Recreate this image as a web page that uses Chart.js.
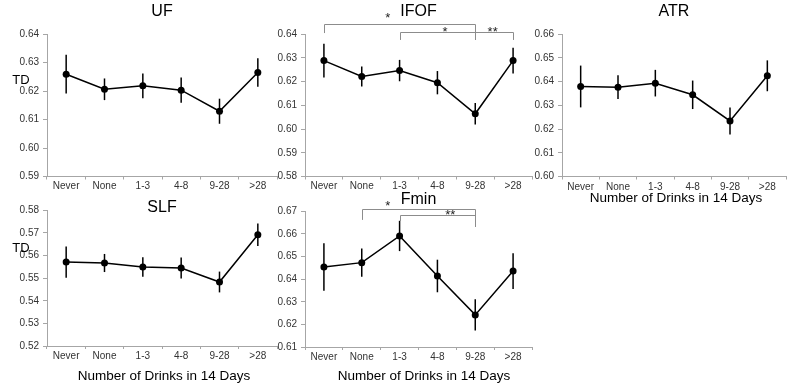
<!DOCTYPE html>
<html><head><meta charset="utf-8">
<script src="https://cdn.jsdelivr.net/npm/chart.js@4/dist/chart.umd.min.js"></script>
<style>
html,body{margin:0;padding:0;background:#fff;}
body{width:790px;height:384px;position:relative;overflow:hidden;}
canvas{position:absolute;}
</style></head><body>
<canvas id="c_uf" width="285" height="200" style="left:0;top:0"></canvas>
<canvas id="c_ifof" width="275" height="200" style="left:265px;top:0"></canvas>
<canvas id="c_atr" width="265" height="210" style="left:525px;top:0"></canvas>
<canvas id="c_slf" width="285" height="204" style="left:0;top:180px"></canvas>
<canvas id="c_fmin" width="275" height="204" style="left:265px;top:180px"></canvas>
<script>
// ---- data ----
const categories = ['Never','None','1-3','4-8','9-28','>28'];

const ufMean  = [0.6259,0.6206,0.6218,0.6203,0.6129,0.6265];
const ufErr   = [0.0068,0.0038,0.0043,0.0044,0.0044,0.0050];
const ifofMean= [0.6288,0.6221,0.6246,0.6195,0.6064,0.6288];
const ifofErr = [0.0071,0.0042,0.0045,0.0049,0.0045,0.0054];
const atrMean = [0.6379,0.6376,0.6393,0.6344,0.6234,0.6424];
const atrErr  = [0.0088,0.0050,0.0056,0.0060,0.0057,0.0065];
const slfMean = [0.5571,0.5567,0.5549,0.5545,0.5483,0.5692];
const slfErr  = [0.0069,0.0040,0.0043,0.0046,0.0046,0.0050];
const fminMean= [0.6454,0.6473,0.6591,0.6414,0.6242,0.6436];
const fminErr = [0.0105,0.0062,0.0067,0.0072,0.0069,0.0079];

const ufTicks   = [0.59,0.60,0.61,0.62,0.63,0.64];
const ifofTicks = [0.58,0.59,0.60,0.61,0.62,0.63,0.64];
const atrTicks  = [0.60,0.61,0.62,0.63,0.64,0.65,0.66];
const slfTicks  = [0.52,0.53,0.54,0.55,0.56,0.57,0.58];
const fminTicks = [0.61,0.62,0.63,0.64,0.65,0.66,0.67];

const yLabel = 'TD';
const xTitle = 'Number of Drinks in 14 Days';

// significance brackets: category indices, bracket level & leg ends in data units
const ifofSig = [
  {from:0, to:4, level:0.6442, legFrom:0.6404, legTo:0.6375, mark:'*',  markAt:1.69, markY:0.6480},
  {from:2, to:4, level:0.6407, legFrom:0.6375, legTo:0.6375, mark:'*',  markAt:3.20, markY:0.6421},
  {from:4, to:5, level:0.6407, legFrom:0.6375, legTo:0.6375, mark:'**', markAt:4.46, markY:0.6421}
];
const fminSig = [
  {from:1, to:4, level:0.6710, legFrom:0.6662, legTo:0.6631, mark:'*',  markAt:1.69, markY:0.6737},
  {from:2, to:4, level:0.6684, legFrom:0.6657, legTo:0.6631, mark:'**', markAt:3.34, markY:0.6693}
];

// ---- rendering ----
const FONT = "'Liberation Sans', Arial, sans-serif";

const panelPlugin = {
  id: 'panelExtras',
  beforeDatasetsDraw(chart) {
    const o = chart.options.plugins.panelExtras;
    const ctx = chart.ctx, xs = chart.scales.x, ys = chart.scales.y;
    ctx.save();
    ctx.strokeStyle = '#000';
    ctx.lineWidth = 1.5;
    o.mean.forEach((m, i) => {
      const x = xs.getPixelForValue(i);
      ctx.beginPath();
      ctx.moveTo(x, ys.getPixelForValue(m - o.err[i]));
      ctx.lineTo(x, ys.getPixelForValue(m + o.err[i]));
      ctx.stroke();
    });
    ctx.restore();
  },
  afterDraw(chart) {
    const o = chart.options.plugins.panelExtras;
    const ctx = chart.ctx, xs = chart.scales.x, ys = chart.scales.y, ca = chart.chartArea;
    ctx.save();
    (o.sig || []).forEach(s => {
      const x1 = Math.round(xs.getPixelForValue(s.from)) + 0.5;
      const x2 = Math.round(xs.getPixelForValue(s.to)) + 0.5;
      const yl = Math.round(ys.getPixelForValue(s.level)) + 0.5;
      ctx.strokeStyle = '#8c8c8c';
      ctx.lineWidth = 1;
      ctx.beginPath();
      ctx.moveTo(x1, ys.getPixelForValue(s.legFrom));
      ctx.lineTo(x1, yl);
      ctx.lineTo(x2, yl);
      ctx.lineTo(x2, ys.getPixelForValue(s.legTo));
      ctx.stroke();
      ctx.fillStyle = '#222';
      ctx.font = '13px ' + FONT;
      ctx.textAlign = 'center';
      ctx.textBaseline = 'middle';
      ctx.fillText(s.mark, xs.getPixelForValue(s.markAt), ys.getPixelForValue(s.markY) + 3);
    });
    ctx.fillStyle = '#000';
    ctx.textAlign = 'center';
    ctx.textBaseline = 'alphabetic';
    ctx.font = '16px ' + FONT;
    ctx.fillText(o.title, (ca.left + ca.right) / 2, o.titleY);
    if (o.td) {
      ctx.font = '13px ' + FONT;
      ctx.fillText(yLabel, o.td[0], o.td[1]);
    }
    if (o.xt) {
      ctx.font = '13.5px ' + FONT;
      ctx.fillText(xTitle, o.xt[0], o.xt[1]);
    }
    ctx.restore();
  }
};

function makePanel(id, cfg) {
  const cv = document.getElementById(id);
  const H = cv.height, W = cv.width;
  new Chart(cv, {
    type: 'line',
    data: {
      labels: categories,
      datasets: [{
        data: cfg.mean,
        borderColor: '#000',
        backgroundColor: '#000',
        borderWidth: 1.5,
        pointRadius: 3.5,
        pointBackgroundColor: '#000',
        pointBorderWidth: 0,
        tension: 0,
        fill: false
      }]
    },
    options: {
      responsive: false,
      animation: false,
      devicePixelRatio: 1,
      layout: { padding: { top: cfg.top, right: W - cfg.right, left: 0, bottom: 0 } },
      plugins: {
        legend: { display: false },
        tooltip: { enabled: false },
        title: { display: false },
        panelExtras: {
          mean: cfg.mean, err: cfg.err, sig: cfg.sig, title: cfg.title,
          titleY: cfg.titleY, td: cfg.td, xt: cfg.xt
        }
      },
      scales: {
        x: {
          type: 'category',
          offset: true,
          grid: { offset: true, drawOnChartArea: false, drawTicks: true, tickLength: 3, color: '#a6a6a6' },
          border: { display: true, color: '#a6a6a6', width: 1 },
          ticks: { color: '#333', font: { size: 10, family: FONT }, padding: cfg.xpad || 1, maxRotation: 0, autoSkip: false },
          afterFit: (a) => { a.height = H - cfg.bottom; }
        },
        y: {
          type: 'linear',
          min: cfg.ticks[0],
          max: cfg.ticks[cfg.ticks.length - 1],
          afterBuildTicks: (a) => { a.ticks = cfg.ticks.map(v => ({ value: v })); },
          grid: { drawOnChartArea: false, drawTicks: true, tickLength: 4, color: '#a6a6a6' },
          border: { display: true, color: '#a6a6a6', width: 1 },
          ticks: { color: '#333', font: { size: 10, family: FONT }, padding: 4,
                   callback: (v) => Number(v).toFixed(2) },
          afterFit: (a) => { a.width = cfg.left; }
        }
      }
    },
    plugins: [panelPlugin]
  });
}

// canvas-relative chart areas
makePanel('c_uf',   { mean: ufMean,   err: ufErr,   ticks: ufTicks,   title: 'UF',   titleY: 16,
  left: 47, right: 277, top: 34, bottom: 176.5, td: [21, 83.5] });
makePanel('c_ifof', { mean: ifofMean, err: ifofErr, ticks: ifofTicks, title: 'IFOF', titleY: 16,
  left: 40, right: 267, top: 34, bottom: 176.5, sig: ifofSig });
makePanel('c_atr',  { mean: atrMean,  err: atrErr,  ticks: atrTicks,  title: 'ATR',  titleY: 16,
  left: 37, right: 264, top: 34, bottom: 176.5, xt: [151, 201.5], xpad: 2 });
makePanel('c_slf',  { mean: slfMean,  err: slfErr,  ticks: slfTicks,  title: 'SLF',  titleY: 32,
  left: 47, right: 277, top: 30.3, bottom: 166, td: [21, 71.5], xt: [164, 199.5] });
makePanel('c_fmin', { mean: fminMean, err: fminErr, ticks: fminTicks, title: 'Fmin', titleY: 24,
  left: 40, right: 267, top: 31.3, bottom: 167, sig: fminSig, xt: [159, 199.5] });
</script>
</body></html>
